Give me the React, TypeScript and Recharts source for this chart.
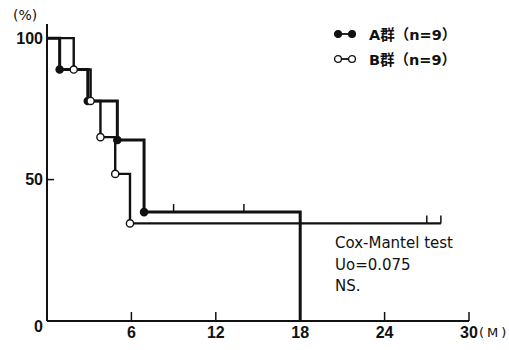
import React from "react";
import { LineChart, Line, XAxis, YAxis, Legend, Customized } from "recharts";

// survival curves (months, % surviving)
const aTime = [0, 0.9, 2.9, 5, 6.9, 9, 14, 18];
const aSurv = [100, 88.9, 77.8, 64, 38.5, 38.5, 38.5, 0];
const aMark = ["", "event", "event", "event", "event", "censor", "censor", ""];

const bTime = [0, 1.9, 3.1, 3.8, 4.85, 5.9, 27, 28];
const bSurv = [100, 88.9, 77.8, 65, 52, 34.5, 34.5, 34.5];
const bMark = ["", "event", "event", "event", "event", "event", "censor", "censor"];

const xTicks = [6, 12, 18, 24, 30];
const yTicks = [0, 50, 100];

const legendItems = [
  { label: "A群（n=9）", filled: true },
  { label: "B群（n=9）", filled: false },
];
const testLines = ["Cox-Mantel test", "Uo=0.075", "NS."];

const build = (t: number[], s: number[], m: string[]) =>
  t.map((v, i) => ({ t: v, s: s[i], mark: m[i] }));

const dataA = build(aTime, aSurv, aMark);
const dataB = build(bTime, bSurv, bMark);

const INK = "#111";
const tickFont = "'Liberation Sans Narrow', 'Liberation Sans', Arial, sans-serif";
const textFont = "'DejaVu Sans', 'Noto Sans CJK JP', sans-serif";

const makeDot = (filled: boolean) => (props: any) => {
  const { cx, cy, payload, index } = props;
  if (payload.mark === "event") {
    return (
      <circle
        key={index}
        cx={cx}
        cy={cy}
        r={3.6}
        fill={filled ? INK : "#fff"}
        stroke={INK}
        strokeWidth={1.4}
      />
    );
  }
  if (payload.mark === "censor") {
    return <line key={index} x1={cx} x2={cx} y1={cy} y2={cy - 8} stroke={INK} strokeWidth={1.5} />;
  }
  return <g key={index} />;
};

const YTick = (props: any) => {
  const { x, y, payload } = props;
  const v = payload.value;
  return (
    <g>
      {v === 50 && <line x1={x + 4} x2={x + 11} y1={y} y2={y} stroke={INK} strokeWidth={1.5} />}
      <text
        x={x}
        y={v === 0 ? y + 5 : y}
        textAnchor="end"
        dominantBaseline="central"
        fontFamily={tickFont}
        fontWeight="bold"
        fontSize={16}
        fill={INK}
      >
        {v}
      </text>
    </g>
  );
};

const XTick = (props: any) => {
  const { x, y, payload } = props;
  return (
    <g>
      <line x1={x} x2={x} y1={y - 4} y2={y - 13} stroke={INK} strokeWidth={1.5} />
      <text
        x={x}
        y={y + 7}
        textAnchor="middle"
        dominantBaseline="central"
        fontFamily={tickFont}
        fontWeight="bold"
        fontSize={16}
        fill={INK}
      >
        {payload.value}
      </text>
    </g>
  );
};

const LegendBox = () => (
  <div style={{ fontFamily: textFont, fontWeight: "bold", fontSize: 14.5, color: INK }}>
    {legendItems.map((it) => (
      <div key={it.label} style={{ display: "flex", alignItems: "center", height: 25 }}>
        <svg width={30} height={12} style={{ marginRight: 5 }}>
          <line x1={4} x2={18} y1={6} y2={6} stroke={INK} strokeWidth={1.8} />
          <circle cx={4} cy={6} r={3.4} fill={it.filled ? INK : "#fff"} stroke={INK} strokeWidth={1.3} />
          <circle cx={18} cy={6} r={3.4} fill={it.filled ? INK : "#fff"} stroke={INK} strokeWidth={1.3} />
        </svg>
        <span>{it.label}</span>
      </div>
    ))}
  </div>
);

const Notes = () => (
  <g fontFamily={textFont} fill={INK}>
    <text x={13} y={20} fontSize={14}>(%)</text>
    <text x={479} y={337} fontSize={13} letterSpacing={3}>(M)</text>
    {testLines.map((s, i) => (
      <text key={s} x={335} y={248 + i * 21.5} fontSize={15}>
        {s}
      </text>
    ))}
  </g>
);

export default function App() {
  return (
    <div style={{ position: "absolute", left: 0, top: 0, background: "#fff" }}>
      <LineChart width={509} height={350} margin={{ top: 24, right: 40, bottom: 0, left: 0 }}>
        <XAxis
          type="number"
          dataKey="t"
          domain={[0, 30]}
          ticks={xTicks}
          height={29}
          tickSize={0}
          tickMargin={4}
          tick={<XTick />}
          axisLine={{ stroke: INK, strokeWidth: 2 }}
          tickLine={false}
          allowDataOverflow
        />
        <YAxis
          type="number"
          domain={[0, 105]}
          ticks={yTicks}
          width={47}
          tickSize={0}
          tickMargin={4}
          tick={<YTick />}
          axisLine={{ stroke: INK, strokeWidth: 2 }}
          tickLine={false}
        />
        <Legend
          layout="vertical"
          align="center"
          verticalAlign="middle"
          wrapperStyle={{ top: 21, left: 334, width: 170 }}
          content={<LegendBox />}
        />
        <Line
          data={dataA}
          dataKey="s"
          type="stepAfter"
          stroke={INK}
          strokeWidth={3}
          dot={makeDot(true)}
          activeDot={false}
          isAnimationActive={false}
        />
        <Line
          data={dataB}
          dataKey="s"
          type="stepAfter"
          stroke={INK}
          strokeWidth={2.4}
          dot={makeDot(false)}
          activeDot={false}
          isAnimationActive={false}
        />
        <Customized component={Notes} />
      </LineChart>
    </div>
  );
}
